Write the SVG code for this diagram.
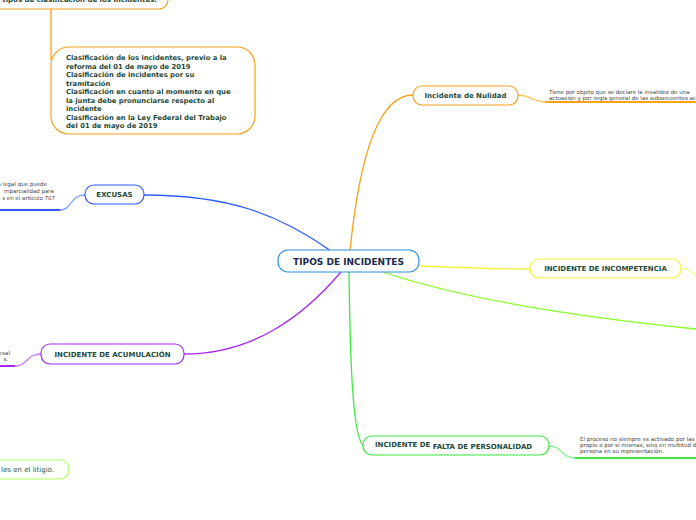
<svg xmlns="http://www.w3.org/2000/svg" width="696" height="520" viewBox="0 0 696 520">
<style>
.n{fill:#fff;stroke-width:1.2}
.t{font-family:"DejaVu Sans",Verdana,sans-serif;font-weight:bold;fill:#1f4a3a;font-size:7px;text-anchor:middle}
.d{font-family:"DejaVu Sans",Verdana,sans-serif;fill:#444;font-size:5.5px}
.c{fill:none;stroke-width:1.3}
.u{fill:none;stroke-width:2}
</style>
<rect width="696" height="520" fill="#fff"/>
<g id="connectors">
<path class="c" d="M350 251 C360 150 380 95 413 95" stroke="#f7a21b"/>
<path class="c" d="M331 251 C280 215 230 195 144 195" stroke="#2f5cff"/>
<path class="c" d="M341 272 C300 320 250 354 184 354" stroke="#a52af0"/>
<path class="c" d="M419 266 C470 268 500 269 530 269" stroke="#f4f43a"/>
<path class="c" d="M383 272 C450 295 560 315 696 329" stroke="#86ff1e"/>
<path class="c" d="M349 272 C350 350 352 440 364 446" stroke="#3de83d"/>
<path class="c" d="M51 9 L51 60" stroke="#f7a21b" stroke-width="1.6"/>
<path class="c" d="M518 95 C532 95 532 102 545 102" stroke="#fbc56a"/>
<path class="u" d="M545 102 L696 102" stroke="#f7a21b"/>
<path class="c" d="M85 195 C70 195 72 210 60 210" stroke="#7d9bff"/>
<path class="u" d="M0 210 L60 210" stroke="#2f5cff"/>
<path class="c" d="M41 354 C26 354 28 366 15 366" stroke="#c87af7"/>
<path class="u" d="M0 366 L15 366" stroke="#a52af0"/>
<path class="c" d="M681 268 C688 268 692 272 696 276" stroke="#f7f78a"/>
<path class="c" d="M549 446 C562 446 562 458 575 458" stroke="#8cf08c"/>
<path class="u" d="M575 458 L696 458" stroke="#3de83d"/>
</g>
<g id="top-node">
<rect class="n" x="-20" y="-20" width="188" height="29" rx="9" stroke="#f7a21b"/>
<text class="t" x="157" y="2" style="text-anchor:end">r tipos de clasificación de los incidentes.</text>
</g>
<g id="clasificacion">
<rect class="n" x="51" y="47" width="204" height="87" rx="18" stroke="#f7a21b"/>
<text class="t" style="text-anchor:start;font-size:6.8px" x="66">
<tspan x="66" y="60">Clasificación de los incidentes, previo a la</tspan>
<tspan x="66" y="68.5">reforma del 01 de mayo de 2019</tspan>
<tspan x="66" y="77">Clasificación de incidentes por su</tspan>
<tspan x="66" y="85.5">tramitación</tspan>
<tspan x="66" y="94">Clasificación en cuanto al momento en que</tspan>
<tspan x="66" y="102.5">la junta debe pronunciarse respecto al</tspan>
<tspan x="66" y="111">incidente</tspan>
<tspan x="66" y="119.5">Clasificación en la Ley Federal del Trabajo</tspan>
<tspan x="66" y="128">del 01 de mayo de 2019</tspan>
</text>
</g>
<g id="center">
<rect class="n" x="278" y="250" width="141" height="22" rx="10" stroke="#2b8fd6"/>
<text class="t" x="348.5" y="264.5" style="font-size:9px;fill:#1b2a50">TIPOS DE INCIDENTES</text>
</g>
<g id="nulidad">
<rect class="n" x="413" y="86" width="105" height="19" rx="9" stroke="#f7a21b"/>
<text class="t" x="465.5" y="98">Incidente de Nulidad</text>
<text class="d" x="549"><tspan x="549" y="93.5">Tiene por objeto que se declare la invalidez de una</tspan><tspan x="549" y="100">actuación y por regla general de las subsecuentes actuaciones</tspan></text>
</g>
<g id="excusas">
<rect class="n" x="85" y="185" width="59" height="19" rx="9" stroke="#2f5cff"/>
<text class="t" x="114.5" y="197">EXCUSAS</text>
<text class="d" style="text-anchor:end"><tspan x="47" y="186">a legal que puede</tspan><tspan x="54" y="193">mparcialidad para</tspan><tspan x="55" y="200">s en el artículo 707</tspan></text>
</g>
<g id="incompetencia">
<rect class="n" x="530" y="259" width="151" height="19" rx="9" stroke="#f4f43a"/>
<text class="t" x="605.5" y="271">INCIDENTE DE INCOMPETENCIA</text>
</g>
<g id="acumulacion">
<rect class="n" x="41" y="344" width="143" height="20" rx="9" stroke="#a52af0"/>
<text class="t" x="112.5" y="357">INCIDENTE DE ACUMULACIÓN</text>
<text class="d" style="text-anchor:end"><tspan x="10" y="355">esal</tspan><tspan x="8" y="361">s.</tspan></text>
</g>
<g id="litigio">
<rect class="n" x="-20" y="460" width="89" height="19" rx="9" stroke="#adff5c"/>
<text class="t" x="54" y="472" style="text-anchor:end;font-weight:normal;fill:#2a5a50">les en el litigio.</text>
</g>
<g id="personalidad">
<rect class="n" x="363" y="436" width="186" height="19" rx="9" stroke="#3de83d"/>
<text class="t" x="375" y="447" style="text-anchor:start">INCIDENTE DE <tspan dy="1.5">FALTA DE PERSONALIDAD</tspan></text>
<text class="d"><tspan x="580" y="441">El proceso no siempre es activado por las partes</tspan><tspan x="580" y="447">propio o por sí mismas, sino en multitud de casos</tspan><tspan x="580" y="453">persona en su representación.</tspan></text>
</g>
</svg>
